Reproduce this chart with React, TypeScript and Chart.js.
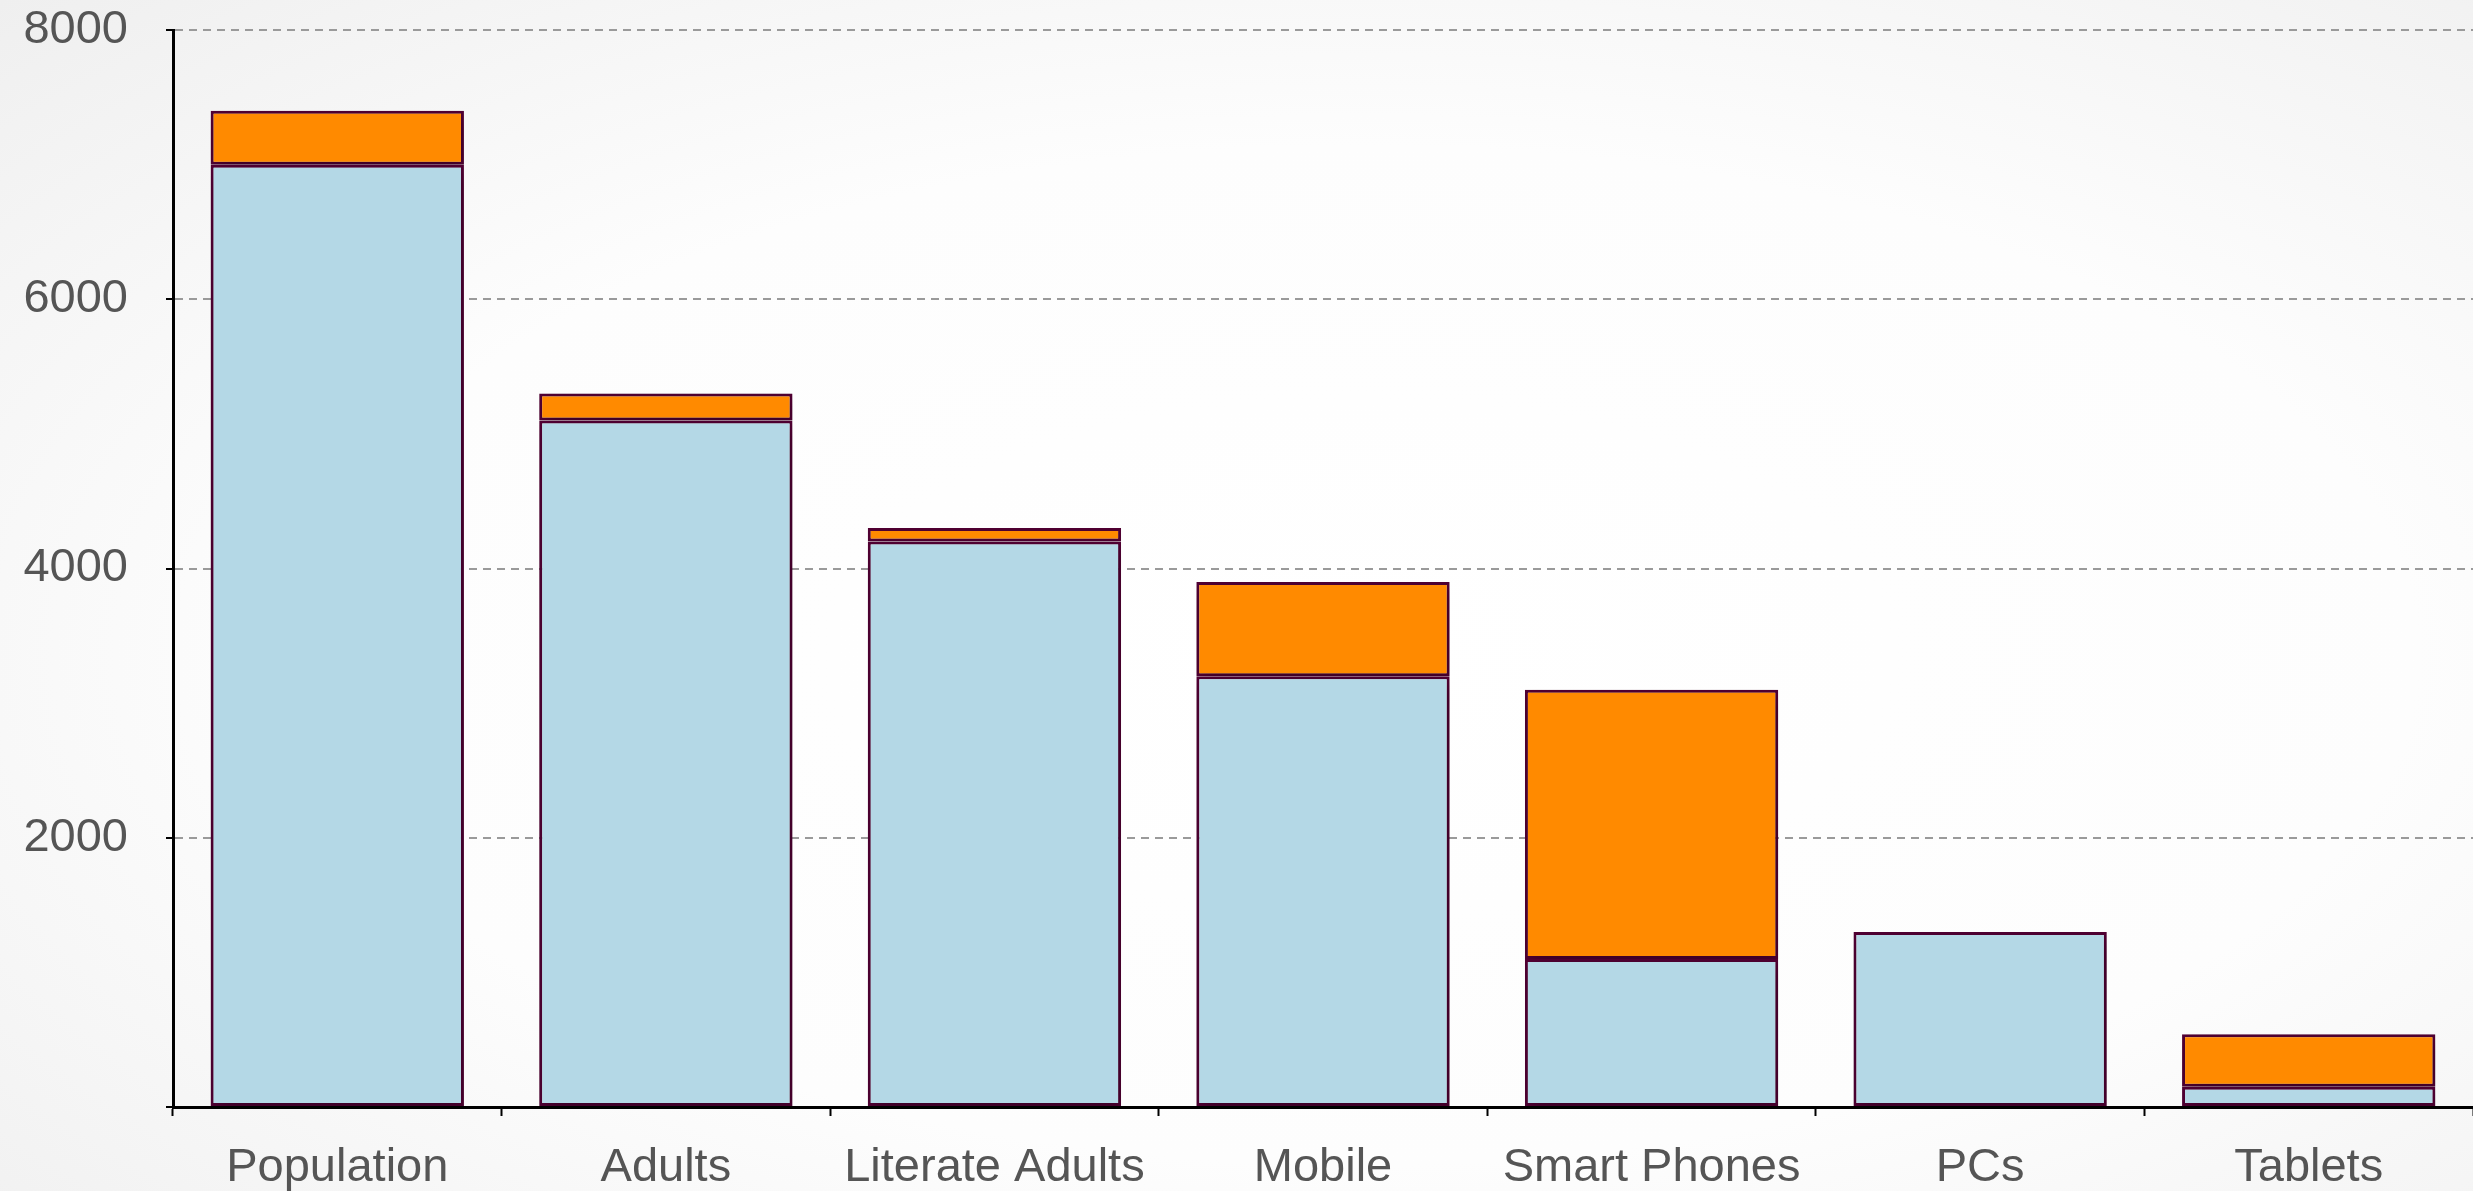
import React, { useEffect, useRef } from "react";
import { Chart, registerables } from "chart.js";

Chart.register(...registerables);

const categories = ["Population", "Adults", "Literate Adults", "Mobile", "Smart Phones", "PCs", "Tablets"];
const baseValues = [7000, 5100, 4200, 3200, 1100, 1300, 150];
const extraValues = [400, 200, 100, 700, 2000, 0, 390];
const yTicks = [2000, 4000, 6000, 8000];

const W = 2473;
const H = 1191;

const shadowPlugin = {
  id: "barShadow",
  beforeDatasetsDraw(chart: any) {
    const ctx = chart.ctx;
    ctx.save();
    ctx.shadowColor = "rgba(0,0,0,0.3)";
    ctx.shadowBlur = 16;
    ctx.shadowOffsetX = 3;
    ctx.shadowOffsetY = 6;
  },
  afterDatasetsDraw(chart: any) {
    chart.ctx.restore();
  },
};

export default function App() {
  const ref = useRef<HTMLCanvasElement | null>(null);

  useEffect(() => {
    document.body.style.margin = "0";
    const canvas = ref.current;
    if (!canvas) return;
    const font = { family: "'Liberation Sans', Arial, Helvetica, sans-serif", size: 47 };
    const chart = new Chart(canvas, {
      type: "bar",
      data: {
        labels: categories,
        datasets: [
          {
            label: "base",
            data: baseValues,
            backgroundColor: "#b4d8e6",
            borderColor: "#520034",
            borderWidth: 3,
            borderSkipped: false,
            categoryPercentage: 1,
            barPercentage: 0.771,
          },
          {
            label: "extra",
            data: extraValues,
            backgroundColor: "#ff8a00",
            borderColor: "#520034",
            borderWidth: 3,
            borderSkipped: false,
            categoryPercentage: 1,
            barPercentage: 0.771,
          },
        ],
      },
      options: {
        responsive: false,
        animation: false,
        devicePixelRatio: 1,
        layout: { padding: { top: 30, right: 0, left: 0, bottom: 0 } },
        plugins: { legend: { display: false }, tooltip: { enabled: false } },
        scales: {
          x: {
            stacked: true,
            offset: true,
            grid: {
              offset: true,
              drawOnChartArea: false,
              drawTicks: true,
              tickLength: 9,
              tickColor: "#000",
              tickWidth: 2,
            },
            border: { display: true, color: "#000", width: 3 },
            ticks: { color: "#555", font, padding: 24, maxRotation: 0, autoSkip: false },
            afterFit(scale: any) {
              scale.height = 84;
              scale.paddingLeft = 0;
              scale.paddingRight = 0;
            },
          },
          y: {
            stacked: true,
            min: 0,
            max: 8000,
            grid: {
              color: "#9a9a9a",
              lineWidth: 2,
              drawTicks: true,
              tickLength: 7,
              tickColor: "#000",
              tickWidth: 2,
            },
            border: { display: true, color: "#000", width: 3, dash: [8, 6] },
            afterBuildTicks(scale: any) {
              scale.ticks = [0, ...yTicks].map((v) => ({ value: v }));
            },
            ticks: {
              color: "#555",
              font,
              padding: 38,
              callback: (v: any) => (v === 0 ? "" : String(v)),
            },
            afterFit(scale: any) {
              scale.width = 173;
              scale.paddingTop = 0;
              scale.paddingBottom = 0;
            },
          },
        },
      },
      plugins: [shadowPlugin],
    });
    return () => chart.destroy();
  }, []);

  return (
    <div
      style={{
        width: W,
        height: H,
        position: "relative",
        background: "radial-gradient(ellipse at 55% 55%, #ffffff 0%, #fdfdfd 55%, #efefef 100%)",
      }}
    >
      <canvas ref={ref} width={W} height={H} style={{ display: "block" }} />
    </div>
  );
}
